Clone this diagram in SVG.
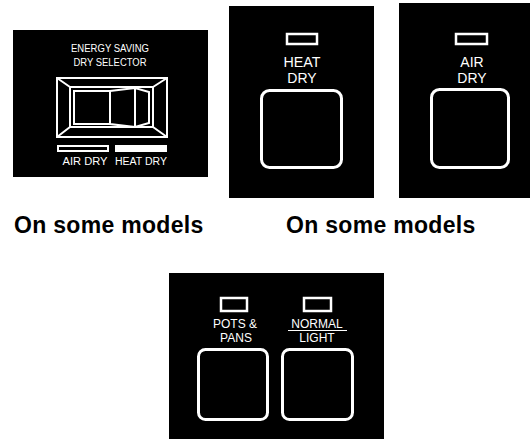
<svg xmlns="http://www.w3.org/2000/svg" width="531" height="439" viewBox="0 0 531 439">
<style>
.panel{fill:#000}
.w{fill:none;stroke:#fff;stroke-width:2}
.btn{fill:none;stroke:#fff;stroke-width:3}
.led{fill:none;stroke:#fff;stroke-width:2.5}
.t{font-family:"Liberation Sans",Arial,sans-serif;fill:#fff;text-anchor:middle}
.cap{font-family:"Liberation Sans",Arial,sans-serif;font-weight:bold;font-size:23px;fill:#000;letter-spacing:0.3px}
</style>
<rect width="531" height="439" fill="#fff"/>
<g id="selector">
<rect class="panel" x="13" y="30" width="195" height="147"/>
<text class="t" x="110" y="52" font-size="10" textLength="78" lengthAdjust="spacingAndGlyphs">ENERGY SAVING</text>
<text class="t" x="110" y="66" font-size="10" textLength="73" lengthAdjust="spacingAndGlyphs">DRY SELECTOR</text>
<rect class="w" x="57" y="78" width="110" height="59"/>
<rect class="w" x="70" y="87" width="83" height="40"/>
<path class="w" d="M57 78L70 87M167 78L153 87M57 137L70 127M167 137L153 127"/>
<rect class="w" x="74" y="91" width="36" height="33"/>
<path class="w" d="M110 91L135 88L149 92L149 123L135 127L110 124Z M135 88V127"/>
<rect class="w" x="58" y="146" width="50" height="5" stroke-width="1.5"/>
<rect x="115" y="145" width="52" height="7" fill="#fff"/>
<text class="t" x="85" y="165" font-size="10" textLength="45" lengthAdjust="spacingAndGlyphs">AIR DRY</text>
<text class="t" x="141" y="165" font-size="10" textLength="52" lengthAdjust="spacingAndGlyphs">HEAT DRY</text>
</g>
<g id="heat-dry">
<rect class="panel" x="229" y="6" width="145" height="192"/>
<rect class="led" x="287" y="34" width="30" height="10"/>
<text class="t" x="302" y="67" font-size="14" textLength="37" lengthAdjust="spacingAndGlyphs">HEAT</text>
<text class="t" x="302" y="83" font-size="14">DRY</text>
<rect class="btn" x="261.5" y="90.5" width="80" height="77" rx="8"/>
</g>
<g id="air-dry">
<rect class="panel" x="399" y="3" width="131" height="195"/>
<rect class="led" x="456" y="34" width="31" height="10"/>
<text class="t" x="472" y="67" font-size="14">AIR</text>
<text class="t" x="472" y="83" font-size="14">DRY</text>
<rect class="btn" x="431.5" y="89.5" width="77" height="78" rx="8"/>
</g>
<g id="pots-normal">
<rect class="panel" x="169" y="273" width="215" height="166"/>
<rect class="led" x="221" y="298" width="26" height="13"/>
<rect class="led" x="304" y="298" width="27" height="13"/>
<text class="t" x="235" y="328" font-size="12">POTS &amp;</text>
<text class="t" x="236" y="342" font-size="12">PANS</text>
<text class="t" x="317" y="328" font-size="12">NORMAL</text>
<line x1="288" y1="330.5" x2="347" y2="330.5" stroke="#fff" stroke-width="1.2"/>
<text class="t" x="317" y="342" font-size="12">LIGHT</text>
<rect class="btn" x="198.5" y="349.5" width="69" height="70" rx="7"/>
<rect class="btn" x="282.5" y="349.5" width="70" height="70" rx="7"/>
</g>
<g id="captions">
<text class="cap" x="14" y="233">On some models</text>
<text class="cap" x="286" y="233">On some models</text>
</g>
</svg>
